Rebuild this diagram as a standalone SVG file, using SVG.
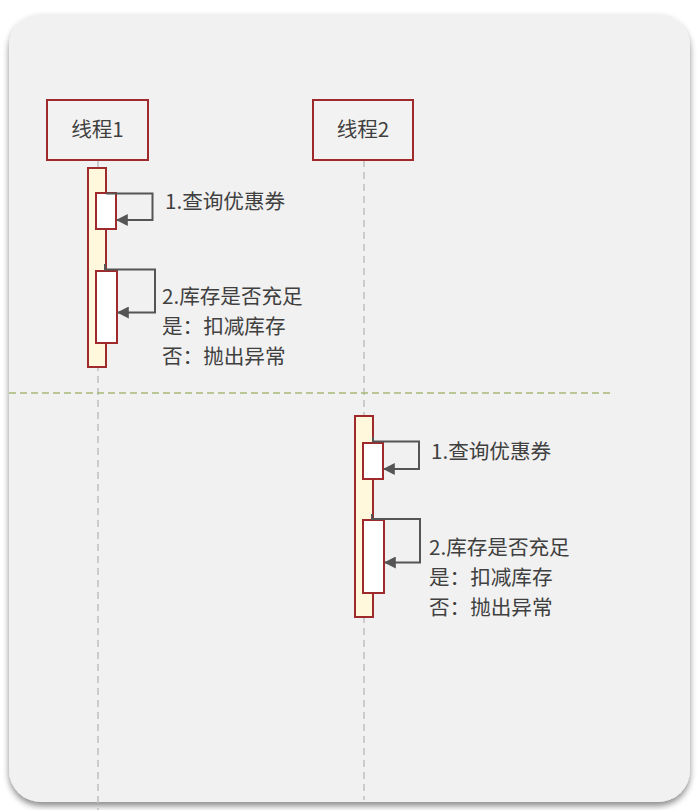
<svg xmlns="http://www.w3.org/2000/svg" width="699" height="810" viewBox="0 0 699 810">
<style>
.actor{fill:#f2f2f2;stroke:#9e2a2b;stroke-width:2}
.act{fill:#fff8dc;stroke:#9e2a2b;stroke-width:2}
.sub{fill:#ffffff;stroke:#9e2a2b;stroke-width:2}
.life{stroke:#c2c2c2;stroke-width:1.6;stroke-dasharray:7 5;fill:none}
.msg{fill:none;stroke:#555555;stroke-width:2;marker-end:url(#ah)}
.t{font-family:"Microsoft YaHei","Noto Sans CJK SC","Noto Sans",sans-serif;font-size:20.6px;fill:#404040}
</style>
<defs>
<marker id="ah" viewBox="0 0 10 10" refX="9" refY="5" markerWidth="6" markerHeight="6" orient="auto" markerUnits="strokeWidth">
<path d="M0,0 L10,5 L0,10 z" fill="#555555"/>
</marker>
<filter id="sh" x="-5%" y="-5%" width="110%" height="110%">
<feDropShadow dx="0" dy="4" stdDeviation="3" flood-color="#000" flood-opacity="0.45"/>
</filter>
</defs>
<rect x="0" y="0" width="699" height="810" fill="#ffffff"/>
<rect x="9" y="14" width="681" height="788" rx="32" ry="32" fill="#f1f1f1" filter="url(#sh)"/>
<g id="lifelines">
<line class="life" x1="98" y1="160" x2="98" y2="810"/>
<line class="life" x1="364" y1="160" x2="364" y2="800"/>
</g>
<line x1="9" y1="393" x2="613" y2="393" stroke="#a8b878" stroke-width="1.6" stroke-dasharray="7 4"/>
<g id="thread1">
<rect class="actor" x="47" y="100" width="101" height="60"/>
<text class="t" x="97.5" y="137" text-anchor="middle">线程1</text>
</g>
<g id="thread2">
<rect class="actor" x="313" y="100" width="100" height="60"/>
<text class="t" x="363" y="137" text-anchor="middle">线程2</text>
</g>
<g id="act1">
<rect class="act" x="88" y="168" width="18" height="199"/>
<rect class="sub" x="96" y="193" width="20" height="36"/>
<rect class="sub" x="96" y="271" width="21" height="72"/>
</g>
<g id="act2">
<rect class="act" x="355" y="416" width="18" height="201"/>
<rect class="sub" x="363" y="443" width="20" height="36"/>
<rect class="sub" x="363" y="520" width="21" height="73"/>
</g>
<g id="connectors">
<path class="msg" d="M106,193.5 H152.5 V220 H117"/>
<path class="msg" d="M105,264 V269.5 H155 V312.5 H118"/>
<path class="msg" d="M373,437 V441.5 H419 V469 H384"/>
<path class="msg" d="M372,514 V519 H420 V562.5 H385"/>
</g>
<g id="labels1">
<text class="t" x="165" y="209">1.查询优惠券</text>
<text class="t" x="162" y="304">2.库存是否充足</text>
<text class="t" x="162" y="334">是：扣减库存</text>
<text class="t" x="162" y="364">否：抛出异常</text>
</g>
<g id="labels2">
<text class="t" x="431" y="459">1.查询优惠券</text>
<text class="t" x="429" y="555">2.库存是否充足</text>
<text class="t" x="429" y="585">是：扣减库存</text>
<text class="t" x="429" y="615">否：抛出异常</text>
</g>
</svg>
